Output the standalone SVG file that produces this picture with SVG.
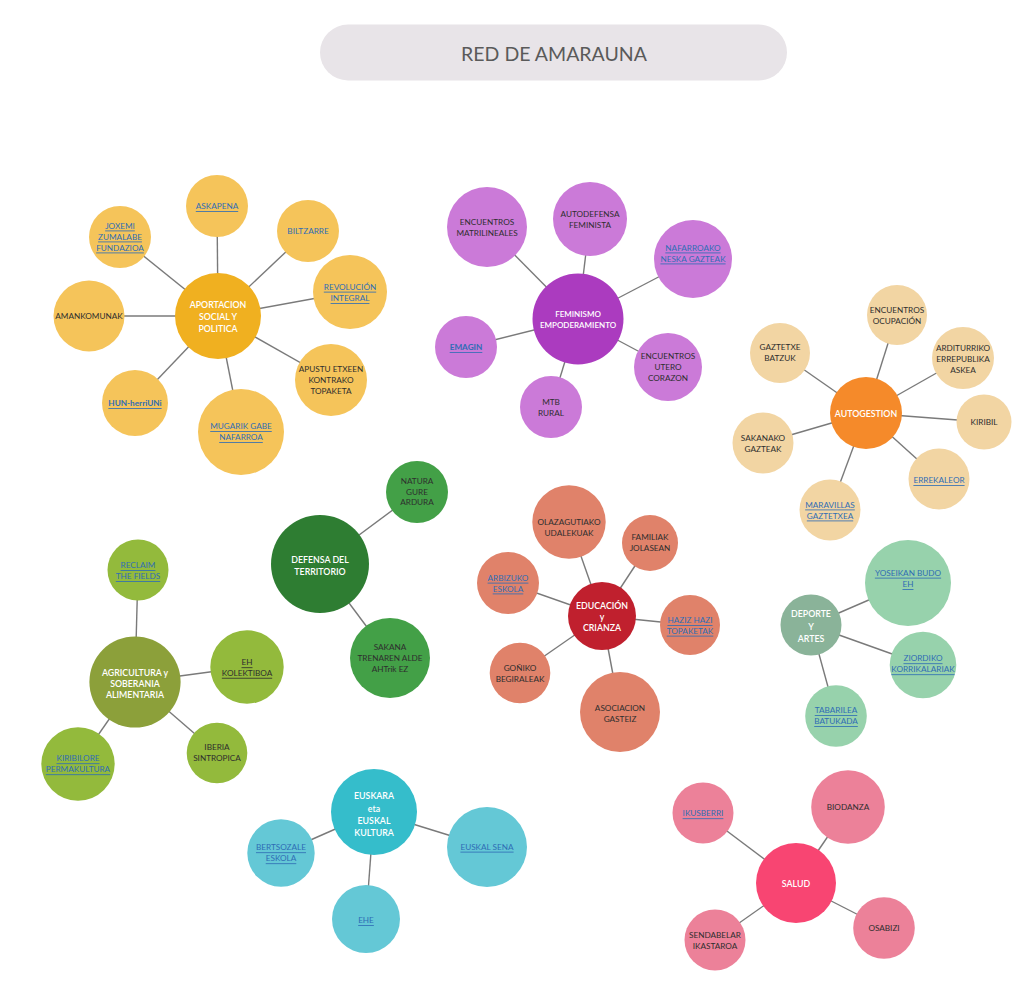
<svg xmlns="http://www.w3.org/2000/svg" width="1024" height="983" viewBox="0 0 1024 983">
<style>
text{font-family:Lato,"Noto Sans","Liberation Sans",sans-serif;text-anchor:middle;dominant-baseline:central}
.t{font-size:8.2px;fill:#2e2e2e}
.l{font-size:8.2px;fill:#2f6db5;text-decoration:underline}
.b{font-size:8.2px;fill:#2f6db5}
.u{font-size:8.2px;fill:#2e2e2e;text-decoration:underline}
.w{font-size:8.8px;fill:#ffffff;font-weight:600}
.c line{stroke:#7a7a7a;stroke-width:1.4}
.ap{fill:#f0b020}.ap2{fill:#f5c45a}
.fe{fill:#ab3bbf}.fe2{fill:#cb7ad8}
.au{fill:#f58a2a}.au2{fill:#f2d5a3}
.de{fill:#2e7d32}.de2{fill:#43a047}
.ag{fill:#8ca03a}.ag2{fill:#93ba3c}
.ed{fill:#c0202e}.ed2{fill:#e0826a}
.dp{fill:#8ab399}.dp2{fill:#97d2ac}
.eu{fill:#35bdcb}.eu2{fill:#64c8d6}
.sa{fill:#f84572}.sa2{fill:#ec8199}
</style>
<rect width="1024" height="983" fill="#ffffff"/>
<g id="title">
<rect x="320" y="24.5" width="467" height="56" rx="28" fill="#e8e4e8"/>
<text x="554" y="53.5" style="font-size:19.5px;fill:#5a5a5a">RED DE AMARAUNA</text>
</g>
<g id="connectors" class="c">
<line x1="218" y1="316" x2="217" y2="206"/>
<line x1="218" y1="316" x2="308" y2="231"/>
<line x1="218" y1="316" x2="120" y2="237"/>
<line x1="218" y1="316" x2="350" y2="292"/>
<line x1="218" y1="316" x2="89" y2="316"/>
<line x1="218" y1="316" x2="331" y2="380"/>
<line x1="218" y1="316" x2="135" y2="403"/>
<line x1="218" y1="316" x2="241" y2="432"/>
<line x1="578" y1="319" x2="487" y2="227"/>
<line x1="578" y1="319" x2="590" y2="219"/>
<line x1="578" y1="319" x2="693" y2="259"/>
<line x1="578" y1="319" x2="466" y2="347"/>
<line x1="578" y1="319" x2="551" y2="407"/>
<line x1="578" y1="319" x2="668" y2="367"/>
<line x1="866" y1="413" x2="897" y2="315"/>
<line x1="866" y1="413" x2="780" y2="353"/>
<line x1="866" y1="413" x2="963" y2="358"/>
<line x1="866" y1="413" x2="984" y2="422"/>
<line x1="866" y1="413" x2="763" y2="443"/>
<line x1="866" y1="413" x2="939" y2="479"/>
<line x1="866" y1="413" x2="830" y2="510"/>
<line x1="320" y1="564" x2="417" y2="492"/>
<line x1="320" y1="564" x2="390" y2="658"/>
<line x1="135" y1="682" x2="138" y2="570"/>
<line x1="135" y1="682" x2="247" y2="667"/>
<line x1="135" y1="682" x2="217" y2="753"/>
<line x1="135" y1="682" x2="78" y2="764"/>
<line x1="602" y1="616" x2="569" y2="522"/>
<line x1="602" y1="616" x2="650" y2="543"/>
<line x1="602" y1="616" x2="508" y2="583"/>
<line x1="602" y1="616" x2="690" y2="625"/>
<line x1="602" y1="616" x2="520" y2="673"/>
<line x1="602" y1="616" x2="620" y2="712"/>
<line x1="811" y1="625" x2="908" y2="583"/>
<line x1="811" y1="625" x2="923" y2="665"/>
<line x1="811" y1="625" x2="836" y2="716"/>
<line x1="374" y1="812" x2="281" y2="853"/>
<line x1="374" y1="812" x2="487" y2="847"/>
<line x1="374" y1="812" x2="366" y2="919"/>
<line x1="796" y1="883" x2="703" y2="813"/>
<line x1="796" y1="883" x2="848" y2="807"/>
<line x1="796" y1="883" x2="715" y2="940"/>
<line x1="796" y1="883" x2="884" y2="928"/>
</g>
<g id="aportacion"><circle cx="218" cy="316" r="43" class="ap"/><text class="w"><tspan x="218" y="304.3">APORTACION</tspan><tspan x="218" y="316">SOCIAL Y</tspan><tspan x="218" y="327.7">POLITICA</tspan></text></g>
<g id="askapena"><circle cx="217" cy="206" r="31" class="ap2"/><text class="l" x="217" y="206">ASKAPENA</text></g>
<g id="biltzarre"><circle cx="308" cy="231" r="31" class="ap2"/><text class="b" x="308" y="231">BILTZARRE</text></g>
<g id="joxemi"><circle cx="120" cy="237" r="31" class="ap2"/><text class="l"><tspan x="120" y="225.5">JOXEMI</tspan><tspan x="120" y="236.5">ZUMALABE</tspan><tspan x="120" y="247.5">FUNDAZIOA</tspan></text></g>
<g id="revolucion"><circle cx="350" cy="292" r="37" class="ap2"/><text class="l"><tspan x="350" y="286.7">REVOLUCIÓN</tspan><tspan x="350" y="298">INTEGRAL</tspan></text></g>
<g id="amankomunak"><circle cx="89" cy="316" r="35.5" class="ap2"/><text class="t" x="89" y="316">AMANKOMUNAK</text></g>
<g id="apustu"><circle cx="331" cy="380" r="36" class="ap2"/><text class="t"><tspan x="331" y="369">APUSTU ETXEEN</tspan><tspan x="331" y="380">KONTRAKO</tspan><tspan x="331" y="391">TOPAKETA</tspan></text></g>
<g id="hun"><circle cx="135" cy="403" r="33" class="ap2"/><text class="l" x="135" y="403" style="font-weight:bold">HUN-herriUNi</text></g>
<g id="mugarik"><circle cx="241" cy="432" r="43" class="ap2"/><text class="l"><tspan x="241" y="426">MUGARIK GABE</tspan><tspan x="241" y="437">NAFARROA</tspan></text></g>

<g id="feminismo"><circle cx="578" cy="319" r="45.5" class="fe"/><text class="w" style="font-size:8px"><tspan x="578" y="313.5">FEMINISMO</tspan><tspan x="578" y="325">EMPODERAMIENTO</tspan></text></g>
<g id="matrilineales"><circle cx="487" cy="227" r="40" class="fe2"/><text class="t"><tspan x="487" y="222">ENCUENTROS</tspan><tspan x="487" y="233">MATRILINEALES</tspan></text></g>
<g id="autodefensa"><circle cx="590" cy="219" r="37" class="fe2"/><text class="t"><tspan x="590" y="213.5">AUTODEFENSA</tspan><tspan x="590" y="224.5">FEMINISTA</tspan></text></g>
<g id="nafarroako"><circle cx="693" cy="259" r="39" class="fe2"/><text class="l"><tspan x="693" y="247.5">NAFARROAKO</tspan><tspan x="693" y="258.5">NESKA GAZTEAK</tspan></text></g>
<g id="emagin"><circle cx="466" cy="347" r="31" class="fe2"/><text class="l" x="466" y="347" style="font-weight:bold">EMAGIN</text></g>
<g id="mtb"><circle cx="551" cy="407" r="31" class="fe2"/><text class="t"><tspan x="551" y="401.7">MTB</tspan><tspan x="551" y="412.7">RURAL</tspan></text></g>
<g id="utero"><circle cx="668" cy="367" r="34" class="fe2"/><text class="t"><tspan x="668" y="356">ENCUENTROS</tspan><tspan x="668" y="367">UTERO</tspan><tspan x="668" y="378">CORAZON</tspan></text></g>

<g id="autogestion"><circle cx="866" cy="413" r="36" class="au"/><text class="w" x="866" y="413.5">AUTOGESTION</text></g>
<g id="ocupacion"><circle cx="897" cy="315" r="30" class="au2"/><text class="t"><tspan x="897" y="310">ENCUENTROS</tspan><tspan x="897" y="321">OCUPACIÓN</tspan></text></g>
<g id="gaztetxe"><circle cx="780" cy="353" r="30" class="au2"/><text class="t"><tspan x="780" y="347">GAZTETXE</tspan><tspan x="780" y="358">BATZUK</tspan></text></g>
<g id="arditurriko"><circle cx="963" cy="358" r="31" class="au2"/><text class="t"><tspan x="963" y="347.7">ARDITURRIKO</tspan><tspan x="963" y="358.7">ERREPUBLIKA</tspan><tspan x="963" y="369.5">ASKEA</tspan></text></g>
<g id="kiribil"><circle cx="984" cy="422" r="27.5" class="au2"/><text class="t" x="984" y="421.7">KIRIBIL</text></g>
<g id="sakanako"><circle cx="763" cy="443" r="30.5" class="au2"/><text class="t"><tspan x="763" y="437.5">SAKANAKO</tspan><tspan x="763" y="448.5">GAZTEAK</tspan></text></g>
<g id="errekaleor"><circle cx="939" cy="479" r="30.5" class="au2"/><text class="l" x="939" y="480">ERREKALEOR</text></g>
<g id="maravillas"><circle cx="830" cy="510" r="30.5" class="au2"/><text class="l"><tspan x="830" y="504.5">MARAVILLAS</tspan><tspan x="830" y="515.5">GAZTETXEA</tspan></text></g>

<g id="defensa"><circle cx="320" cy="564" r="49" class="de"/><text class="w"><tspan x="320" y="559">DEFENSA DEL</tspan><tspan x="320" y="570.7">TERRITORIO</tspan></text></g>
<g id="natura"><circle cx="417" cy="492" r="31" class="de2"/><text class="t"><tspan x="417" y="481">NATURA</tspan><tspan x="417" y="491.7">GURE</tspan><tspan x="417" y="502.3">ARDURA</tspan></text></g>
<g id="sakana"><circle cx="390" cy="658" r="40" class="de2"/><text class="t"><tspan x="390" y="646.7">SAKANA</tspan><tspan x="390" y="657.7">TRENAREN ALDE</tspan><tspan x="390" y="668.7">AHTrik EZ</tspan></text></g>

<g id="agricultura"><circle cx="135" cy="682" r="45.6" class="ag"/><text class="w"><tspan x="135" y="671.7">AGRICULTURA y</tspan><tspan x="135" y="682.7">SOBERANIA</tspan><tspan x="135" y="693.7">ALIMENTARIA</tspan></text></g>
<g id="reclaim"><circle cx="138" cy="570" r="30.5" class="ag2"/><text class="l"><tspan x="138" y="565">RECLAIM</tspan><tspan x="138" y="576">THE FIELDS</tspan></text></g>
<g id="ehkolektiboa"><circle cx="247" cy="667" r="36.7" class="ag2"/><text class="u"><tspan x="247" y="662.3">EH</tspan><tspan x="247" y="672.8">KOLEKTIBOA</tspan></text></g>
<g id="iberia"><circle cx="217" cy="753" r="30.3" class="ag2"/><text class="t"><tspan x="217" y="746.7">IBERIA</tspan><tspan x="217" y="757.5">SINTROPICA</tspan></text></g>
<g id="kiribilore"><circle cx="78" cy="764" r="36.7" class="ag2"/><text class="l"><tspan x="78" y="758.3">KIRIBILORE</tspan><tspan x="78" y="769.3">PERMAKULTURA</tspan></text></g>

<g id="educacion"><circle cx="602" cy="616" r="34" class="ed"/><text class="w"><tspan x="602" y="605">EDUCACIÓN</tspan><tspan x="602" y="615.7">y</tspan><tspan x="602" y="626.7">CRIANZA</tspan></text></g>
<g id="olazagutiako"><circle cx="569" cy="522" r="36.7" class="ed2"/><text class="t"><tspan x="569" y="522.3">OLAZAGUTIAKO</tspan><tspan x="569" y="533.3">UDALEKUAK</tspan></text></g>
<g id="familiak"><circle cx="650" cy="543" r="28" class="ed2"/><text class="t"><tspan x="650" y="537">FAMILIAK</tspan><tspan x="650" y="548.3">JOLASEAN</tspan></text></g>
<g id="arbizuko"><circle cx="508" cy="583" r="31" class="ed2"/><text class="l"><tspan x="508" y="577.7">ARBIZUKO</tspan><tspan x="508" y="588.5">ESKOLA</tspan></text></g>
<g id="haziz"><circle cx="690" cy="625" r="30" class="ed2"/><text class="l"><tspan x="690" y="620">HAZIZ HAZI</tspan><tspan x="690" y="630.7">TOPAKETAK</tspan></text></g>
<g id="goniko"><circle cx="520" cy="673" r="30.3" class="ed2"/><text class="t"><tspan x="520" y="667.7">GOÑIKO</tspan><tspan x="520" y="679">BEGIRALEAK</tspan></text></g>
<g id="asociacion"><circle cx="620" cy="712" r="40" class="ed2"/><text class="t"><tspan x="620" y="707.7">ASOCIACION</tspan><tspan x="620" y="718.5">GASTEIZ</tspan></text></g>

<g id="deporte"><circle cx="811" cy="625" r="30.5" class="dp"/><text class="w"><tspan x="811" y="613.3">DEPORTE</tspan><tspan x="811" y="625.7">Y</tspan><tspan x="811" y="637.7">ARTES</tspan></text></g>
<g id="yoseikan"><circle cx="908" cy="583" r="43" class="dp2"/><text class="l"><tspan x="908" y="572.7">YOSEIKAN BUDO</tspan><tspan x="908" y="584">EH</tspan></text></g>
<g id="ziordiko"><circle cx="923" cy="665" r="33.3" class="dp2"/><text class="l"><tspan x="923" y="658.3">ZIORDIKO</tspan><tspan x="923" y="669.3">KORRIKALARIAK</tspan></text></g>
<g id="tabarilea"><circle cx="836" cy="716" r="30.8" class="dp2"/><text class="l"><tspan x="836" y="710">TABARILEA</tspan><tspan x="836" y="721">BATUKADA</tspan></text></g>

<g id="euskara"><circle cx="374" cy="812" r="43" class="eu"/><text class="w"><tspan x="374" y="795">EUSKARA</tspan><tspan x="374" y="807.7">eta</tspan><tspan x="374" y="820">EUSKAL</tspan><tspan x="374" y="831.7">KULTURA</tspan></text></g>
<g id="bertsozale"><circle cx="281" cy="853" r="33.7" class="eu2"/><text class="l"><tspan x="281" y="847.3">BERTSOZALE</tspan><tspan x="281" y="858.3">ESKOLA</tspan></text></g>
<g id="euskalsena"><circle cx="487" cy="847" r="40" class="eu2"/><text class="l" x="487" y="846.7">EUSKAL SENA</text></g>
<g id="ehe"><circle cx="366" cy="919" r="34" class="eu2"/><text class="l" x="366" y="920">EHE</text></g>

<g id="salud"><circle cx="796" cy="883" r="40" class="sa"/><text class="w" x="796" y="883.3">SALUD</text></g>
<g id="ikusberri"><circle cx="703" cy="813" r="30.5" class="sa2"/><text class="l" x="703" y="813.3">IKUSBERRI</text></g>
<g id="biodanza"><circle cx="848" cy="807" r="36.8" class="sa2"/><text class="t" x="848" y="806.7">BIODANZA</text></g>
<g id="sendabelar"><circle cx="715" cy="940" r="30.5" class="sa2"/><text class="t"><tspan x="715" y="935">SENDABELAR</tspan><tspan x="715" y="946">IKASTAROA</tspan></text></g>
<g id="osabizi"><circle cx="884" cy="928" r="30.8" class="sa2"/><text class="t" x="884" y="928.3">OSABIZI</text></g>
</svg>
